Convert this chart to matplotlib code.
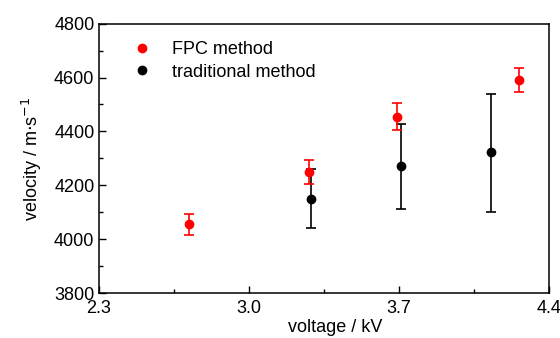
import matplotlib
matplotlib.use("Agg")
import matplotlib.pyplot as plt
from matplotlib.ticker import MultipleLocator, FixedLocator

plt.rcParams['font.family'] = ['Liberation Sans', 'DejaVu Sans']

# FPC method
fpc_v = [2.72, 3.28, 3.69, 4.26]
fpc_vel = [4055, 4250, 4455, 4590]
fpc_err = [40, 45, 50, 45]

# traditional method
trad_v = [3.29, 3.71, 4.13]
trad_vel = [4150, 4272, 4322]
trad_lo = [110, 160, 222]
trad_hi = [110, 155, 218]

fig = plt.figure(figsize=(5.6, 3.38), dpi=100)
ax = fig.add_axes([0.176, 0.133, 0.804, 0.797])

ax.errorbar(fpc_v, fpc_vel, yerr=fpc_err, fmt='o', color='#ff0000', ms=6,
            elinewidth=1.2, capsize=3.5, capthick=1.2, label='FPC method', zorder=3)
ax.errorbar(trad_v, trad_vel, yerr=[trad_lo, trad_hi], fmt='o', color='black', ms=6,
            elinewidth=1.2, capsize=3.5, capthick=1.2, label='traditional method', zorder=2)

ax.set_xlim(2.3, 4.4)
ax.set_ylim(3800, 4800)
ax.xaxis.set_major_locator(FixedLocator([2.3, 3.0, 3.7, 4.4]))
ax.xaxis.set_minor_locator(FixedLocator([2.65, 3.35, 4.05]))
ax.yaxis.set_major_locator(MultipleLocator(200))
ax.yaxis.set_minor_locator(MultipleLocator(100))
ax.set_xticklabels(['2.3', '3.0', '3.7', '4.4'])

ax.tick_params(which='both', direction='in', top=False, right=False, labelsize=13, pad=3)
ax.tick_params(axis='x', which='major', pad=5)
ax.tick_params(which='major', length=5, width=1)
ax.tick_params(which='minor', length=3, width=1)
for s in ax.spines.values():
    s.set_linewidth(1.1)

ax.set_xlabel('voltage / kV', fontsize=13)
ax.xaxis.set_label_coords(0.525, -0.095, transform=ax.transAxes)
ax.xaxis.label.set_va('top')
ax.set_ylabel('velocity / m$\\cdot$s$^{-1}$', fontsize=13, labelpad=7)

handles, labels = ax.get_legend_handles_labels()
handles = [h[0] for h in handles]
ax.legend(handles, labels, loc='upper left', bbox_to_anchor=(0.03, 0.995), frameon=False,
          fontsize=13, handletextpad=0.9, labelspacing=0.3, handlelength=1.5)

fig.savefig('out.png', dpi=100)
